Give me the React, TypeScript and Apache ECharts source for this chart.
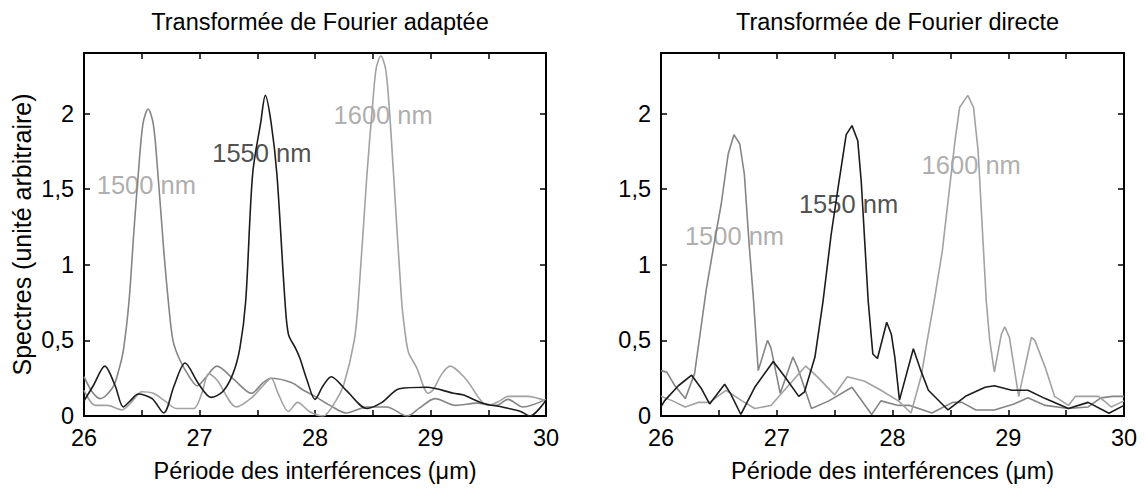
import React, { useEffect, useRef } from "react";
import * as echarts from "echarts";

// ---------- Data ----------
// Left panel: "Transformée de Fourier adaptée"
const adapt1500X = [26.0, 26.07, 26.14, 26.25, 26.3, 26.34, 26.39, 26.43, 26.47, 26.51, 26.555, 26.6, 26.64, 26.69, 26.73, 26.77, 26.83, 26.92, 26.98, 27.05, 27.15, 27.3, 27.45, 27.55, 27.62, 27.8, 27.9, 28.0, 28.13, 28.27, 28.45, 28.62, 28.8, 28.9, 29.04, 29.22, 29.4, 29.57, 29.67, 29.8, 30.0];
const adapt1500Y = [0.26, 0.16, 0.115, 0.19, 0.3, 0.43, 0.76, 1.2, 1.6, 1.93, 2.03, 1.93, 1.6, 1.1, 0.76, 0.5, 0.37, 0.25, 0.2, 0.25, 0.33, 0.24, 0.15, 0.22, 0.25, 0.22, 0.17, 0.13, 0.07, 0.02, 0.06, 0.06, 0.0, 0.05, 0.115, 0.07, 0.085, 0.07, 0.11, 0.06, 0.11];

const adapt1550X = [26.0, 26.08, 26.18, 26.27, 26.34, 26.4, 26.47, 26.59, 26.69, 26.78, 26.875, 26.99, 27.1, 27.2, 27.29, 27.35, 27.4, 27.46, 27.53, 27.57, 27.62, 27.67, 27.74, 27.77, 27.83, 27.87, 27.93, 28.0, 28.07, 28.14, 28.27, 28.45, 28.58, 28.73, 28.97, 29.2, 29.28, 29.45, 29.63, 29.78, 29.86, 30.0];
const adapt1550Y = [0.1, 0.2, 0.33, 0.2, 0.06, 0.1, 0.145, 0.115, 0.02, 0.2, 0.35, 0.215, 0.123, 0.16, 0.28, 0.45, 0.76, 1.6, 1.94, 2.12, 1.94, 1.6, 0.76, 0.54, 0.45, 0.38, 0.24, 0.11, 0.2, 0.26, 0.17, 0.05, 0.09, 0.18, 0.19, 0.15, 0.14, 0.085, 0.058, 0.03, 0.0, 0.105];

const adapt1600X = [26.0, 26.1, 26.2, 26.33, 26.42, 26.5, 26.6, 26.7, 26.8, 26.95, 27.02, 27.08, 27.15, 27.32, 27.45, 27.55, 27.62, 27.68, 27.77, 27.85, 27.95, 28.07, 28.18, 28.25, 28.34, 28.375, 28.45, 28.5, 28.53, 28.57, 28.61, 28.64, 28.68, 28.75, 28.78, 28.81, 28.88, 28.98, 29.02, 29.1, 29.17, 29.3, 29.5, 29.6, 29.67, 29.84, 30.0];
const adapt1600Y = [0.17, 0.07, 0.07, 0.04, 0.1, 0.16, 0.15, 0.1, 0.05, 0.05, 0.15, 0.28, 0.24, 0.06, 0.12, 0.2, 0.25, 0.15, 0.03, 0.09, 0.03, 0.0, 0.1, 0.21, 0.5, 0.76, 1.6, 2.07, 2.3, 2.38, 2.3, 2.07, 1.6, 0.76, 0.55, 0.42, 0.32, 0.15, 0.17, 0.28, 0.33, 0.25, 0.07, 0.1, 0.13, 0.13, 0.1];

// Right panel: "Transformée de Fourier directe"
const direct1500X = [26.0, 26.05, 26.12, 26.21, 26.29, 26.35, 26.39, 26.45, 26.52, 26.58, 26.63, 26.68, 26.72, 26.76, 26.8, 26.84, 26.92, 26.95, 27.03, 27.14, 27.18, 27.3, 27.45, 27.65, 27.82, 27.9, 28.05, 28.15, 28.34, 28.52, 28.6, 28.72, 28.88, 29.05, 29.17, 29.32, 29.52, 29.69, 29.8, 29.9, 30.0];
const direct1500Y = [0.3, 0.29, 0.2, 0.115, 0.28, 0.61, 0.83, 1.1, 1.4, 1.73, 1.86, 1.8, 1.6, 1.15, 0.76, 0.3, 0.5, 0.45, 0.15, 0.39, 0.32, 0.05, 0.1, 0.19, 0.01, 0.1, 0.07, 0.07, 0.02, 0.09, 0.09, 0.04, 0.04, 0.08, 0.12, 0.07, 0.05, 0.06, 0.12, 0.13, 0.13];

const direct1550X = [26.0, 26.03, 26.15, 26.265, 26.35, 26.42, 26.55, 26.6, 26.69, 26.81, 26.97, 27.07, 27.19, 27.24, 27.33, 27.4, 27.47, 27.53, 27.6, 27.65, 27.7, 27.73, 27.79, 27.83, 27.87, 27.95, 27.99, 28.02, 28.06, 28.18, 28.24, 28.31, 28.48, 28.63, 28.8, 28.88, 29.03, 29.17, 29.32, 29.52, 29.69, 29.87, 30.0];
const direct1550Y = [0.06, 0.1, 0.2, 0.27, 0.18, 0.08, 0.21, 0.15, 0.01, 0.19, 0.36, 0.26, 0.13, 0.16, 0.39, 0.76, 1.2, 1.51, 1.86, 1.92, 1.82, 1.55, 0.76, 0.41, 0.38, 0.62, 0.54, 0.39, 0.105, 0.445, 0.31, 0.17, 0.04, 0.13, 0.19, 0.2, 0.17, 0.17, 0.115, 0.05, 0.09, 0.018, 0.07];

const direct1600X = [26.0, 26.1, 26.21, 26.32, 26.42, 26.56, 26.7, 26.81, 26.95, 27.1, 27.25, 27.35, 27.5, 27.61, 27.76, 27.9, 28.05, 28.16, 28.25, 28.3, 28.36, 28.43, 28.54, 28.58, 28.65, 28.7, 28.74, 28.81, 28.84, 28.88, 28.94, 28.97, 29.01, 29.09, 29.2, 29.23, 29.32, 29.4, 29.52, 29.58, 29.69, 29.78, 29.89, 30.0];
const direct1600Y = [0.13, 0.1, 0.06, 0.09, 0.09, 0.17, 0.1, 0.05, 0.07, 0.2, 0.33, 0.26, 0.14, 0.26, 0.23, 0.17, 0.1, 0.02, 0.27, 0.5, 0.76, 1.09, 1.82, 2.04, 2.12, 2.04, 1.75, 0.76, 0.5, 0.29, 0.54, 0.59, 0.52, 0.13, 0.52, 0.5, 0.32, 0.13, 0.07, 0.13, 0.13, 0.13, 0.06, 0.1];

// Curve labels: [x, y, text]
const adaptLabels: [number, number, string][] = [
  [26.54, 1.53, "1500 nm"],
  [27.54, 1.74, "1550 nm"],
  [28.59, 1.99, "1600 nm"],
];
const directLabels: [number, number, string][] = [
  [26.635, 1.19, "1500 nm"],
  [27.62, 1.4, "1550 nm"],
  [28.68, 1.66, "1600 nm"],
];

const titles = ["Transformée de Fourier adaptée", "Transformée de Fourier directe"];
const xName = "Période des interférences (\u03bcm)";
const yName = "Spectres (unité arbitraire)";

// ---------- Styling ----------
const FONT = "'Liberation Sans', Arial, sans-serif";
const C1500 = "#858585";
const C1550 = "#1c1c1c";
const C1600 = "#a2a2a2";
const LBL_GRAY = "#999999";
const LBL_DARK = "#222222";

const zip = (xs: number[], ys: number[]) => xs.map((x, i) => [x, ys[i]]);
const isHalf = (v: number) => Math.abs(v * 2 - Math.round(v * 2)) < 1e-6;
const isInt = (v: number) => Math.abs(v - Math.round(v)) < 1e-6;

export default function App() {
  const ref = useRef<HTMLDivElement>(null);

  useEffect(() => {
    if (!ref.current) return;
    const chart = echarts.init(ref.current, undefined, { renderer: "svg" });

    const grids = [
      { left: 84, top: 53, width: 462, height: 363 },
      { left: 661, top: 53, width: 463, height: 363 },
    ];

    const xAxes: any[] = [];
    const yAxes: any[] = [];
    grids.forEach((_, g) => {
      const common = {
        type: "value",
        gridIndex: g,
        min: 26,
        max: 30,
        interval: 0.5,
        splitLine: { show: false },
        axisLine: { show: true, onZero: false, lineStyle: { color: "#000", width: 2 } },
        axisTick: { show: true, inside: true, length: 6, lineStyle: { color: "#000", width: 1.5 } },
      };
      xAxes.push({
        ...common,
        position: "bottom",
        name: xName,
        nameLocation: "middle",
        nameGap: 43,
        nameTextStyle: { fontFamily: FONT, fontSize: 23.5, color: "#000" },
        axisLabel: {
          show: true,
          margin: 10,
          fontFamily: FONT,
          fontSize: 23.5,
          color: "#000",
          formatter: (v: number) => (isInt(v) ? String(Math.round(v)) : ""),
        },
      });
      xAxes.push({ ...common, position: "top", axisLabel: { show: false } });

      const ycommon = {
        type: "value",
        gridIndex: g,
        min: 0,
        max: 2.4,
        interval: 0.5,
        splitLine: { show: false },
        axisLine: { show: true, onZero: false, lineStyle: { color: "#000", width: 2 } },
        axisTick: { show: true, inside: true, length: 6, lineStyle: { color: "#000", width: 1.5 } },
      };
      yAxes.push({
        ...ycommon,
        position: "left",
        name: g === 0 ? yName : "",
        nameLocation: "middle",
        nameGap: 50,
        nameTextStyle: { fontFamily: FONT, fontSize: 25, color: "#000" },
        axisLabel: {
          show: true,
          margin: 10,
          fontFamily: FONT,
          fontSize: 23.5,
          color: "#000",
          showMaxLabel: false,
          formatter: (v: number) => (isHalf(v) && v <= 2.0001 ? String(v).replace(".", ",") : ""),
        },
      });
      yAxes.push({ ...ycommon, position: "right", axisLabel: { show: false } });
    });

    const line = (g: number, xs: number[], ys: number[], color: string, smooth: number | boolean) => ({
      type: "line",
      xAxisIndex: g * 2,
      yAxisIndex: g * 2,
      data: zip(xs, ys),
      showSymbol: false,
      symbol: "none",
      smooth,
      lineStyle: { color, width: 1.6 },
      z: 3,
    });

    const labelSeries = (g: number, labels: [number, number, string][]) => ({
      type: "scatter",
      xAxisIndex: g * 2,
      yAxisIndex: g * 2,
      symbolSize: 0,
      data: labels.map(([x, y, t]) => ({
        value: [x, y],
        name: t,
        label: { color: t.startsWith("1550") ? LBL_DARK : LBL_GRAY },
      })),
      label: {
        show: true,
        position: "inside",
        formatter: (p: any) => p.name,
        fontFamily: FONT,
        fontSize: 25.5,
      },
      z: 2,
      silent: true,
    });

    chart.setOption({
      animation: false,
      backgroundColor: "#fff",
      title: titles.map((t, i) => ({
        text: t,
        left: grids[i].left + grids[i].width / 2,
        top: 5,
        textAlign: "center",
        textStyle: { fontFamily: FONT, fontSize: 23.5, fontWeight: "normal", color: "#000" },
      })),
      grid: grids.map((g) => ({ ...g, containLabel: false, show: false })),
      xAxis: xAxes,
      yAxis: yAxes,
      series: [
        line(0, adapt1500X, adapt1500Y, C1500, 0.3),
        line(0, adapt1600X, adapt1600Y, C1600, 0.3),
        line(0, adapt1550X, adapt1550Y, C1550, 0.3),
        labelSeries(0, adaptLabels),
        line(1, direct1500X, direct1500Y, C1500, false),
        line(1, direct1600X, direct1600Y, C1600, false),
        line(1, direct1550X, direct1550Y, C1550, false),
        labelSeries(1, directLabels),
      ],
    });

    return () => chart.dispose();
  }, []);

  return (
    <div
      ref={ref}
      style={{ position: "absolute", left: 0, top: 0, width: 1146, height: 492 }}
    />
  );
}
